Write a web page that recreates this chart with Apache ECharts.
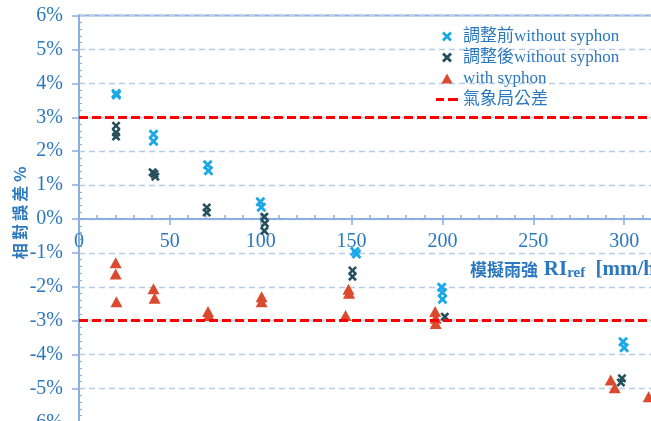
<!DOCTYPE html>
<html><head><meta charset="utf-8">
<script src="https://cdn.jsdelivr.net/npm/echarts@6/dist/echarts.min.js"></script>
<style>html,body{margin:0;padding:0;background:#fff}#c{width:651px;height:421px}</style>
</head><body><div id="c"></div>
<script>
// 調整前 without syphon
const beforeX = [20.4, 20.6, 41, 41, 70.8, 71.2, 99.8, 100.3, 151.8, 152.7, 199.6, 200, 200, 299.4, 300];
const beforeY = [3.70, 3.66, 2.50, 2.29, 1.60, 1.42, 0.51, 0.35, -0.96, -1.03, -2.01, -2.17, -2.37, -3.62, -3.80];
// 調整後 without syphon
const afterX = [20.4, 20.4, 20.4, 40.5, 41.5, 42, 70.3, 70.3, 102, 102.3, 102, 150.5, 150.5, 201.3, 298.8, 298.2];
const afterY = [2.75, 2.55, 2.43, 1.38, 1.33, 1.25, 0.34, 0.19, 0.07, -0.13, -0.35, -1.52, -1.70, -2.88, -4.70, -4.82];
// with syphon
const syphonX = [20.2, 20.2, 20.6, 41, 41.6, 71, 71.4, 100.5, 100.5, 148.3, 148.6, 146.7, 196, 196.3, 196.3, 292.6, 294.8, 313.5];
const syphonY = [-1.29, -1.62, -2.44, -2.06, -2.34, -2.73, -2.85, -2.29, -2.44, -2.07, -2.19, -2.85, -2.73, -2.93, -3.08, -4.75, -4.98, -5.24];
// 氣象局公差
const toleranceLevels = [3, -3];

const seriesNames = ['調整前without syphon', '調整後without syphon', 'with syphon', '氣象局公差'];

const zip = (xs, ys) => xs.map((x, i) => [x, ys[i]]);
const CROSS = 'path://M2,0L5,3L8,0L10,2L7,5L10,8L8,10L5,7L2,10L0,8L3,5L0,2Z';
const TRI = 'path://M5,0L10,9L0,9Z';
const DASH = 'path://M0,0H8V3H0Z M12,0H22V3H12Z';
const blue = '#2C78BF';
const axisBlue = '#8CAEE0';
const gridBlue = '#B7CCEB';
const serif = '"Liberation Serif", "Noto Sans CJK TC", serif';

const W = 651, H = 421;
const gridTop = 15.6, gridBottom = -1.4;
// the x axis sits on y = 0, which is the middle of the symmetric -6..6 range
const xOffset = -((H - gridTop - gridBottom) / 2);

const chart = echarts.init(document.getElementById('c'));
chart.setOption({
  animation: false,
  backgroundColor: '#fff',
  grid: {
    left: 79, top: gridTop, right: -64, bottom: gridBottom,
    containLabel: false, outerBoundsMode: 'none',
    show: true, borderColor: axisBlue, borderWidth: 2, backgroundColor: 'transparent'
  },
  legend: {
    orient: 'vertical', left: 436, top: 28, padding: 0,
    itemWidth: 22, itemHeight: 10, itemGap: 4,
    data: [
      { name: seriesNames[0], icon: CROSS },
      { name: seriesNames[1], icon: CROSS },
      { name: seriesNames[2], icon: TRI },
      { name: seriesNames[3], icon: DASH }
    ],
    textStyle: { color: blue, fontSize: 17, fontFamily: serif, lineHeight: 17 }
  },
  xAxis: [{
    type: 'value', min: 0, max: 350, interval: 50, position: 'bottom', offset: xOffset,
    axisLine: { onZero: false, lineStyle: { color: axisBlue, width: 2 } },
    axisTick: { show: true, length: 6, lineStyle: { color: axisBlue, width: 1.5 } },
    minorTick: { show: true, splitNumber: 5, length: -4, lineStyle: { color: axisBlue, width: 1.5 } },
    splitLine: { show: false },
    axisLabel: { color: blue, fontSize: 20, fontFamily: serif, margin: 13, showMaxLabel: true, hideOverlap: false },
    name: '{a|模擬雨強 }{b|RI}{c|ref}{b| [mm/h]}',
    nameLocation: 'middle', nameGap: 39, nameMoveOverlap: false,
    nameTextStyle: {
      align: 'left', padding: [0, 0, 0, 73],
      rich: {
        a: { fontFamily: '"Noto Sans CJK TC"', fontWeight: 'bold', fontSize: 17, color: blue, padding: [0, 2, 0, 0] },
        b: { fontFamily: '"Liberation Serif"', fontWeight: 'bold', fontSize: 21, color: blue },
        c: { fontFamily: '"Liberation Serif"', fontWeight: 'bold', fontSize: 15, color: blue, verticalAlign: 'bottom', padding: [8, 5, 0, 0] }
      }
    }
  }, {
    type: 'value', min: 0, max: 350, interval: 50, position: 'bottom', offset: xOffset,
    axisLine: { show: false, onZero: false },
    axisTick: { show: true, inside: true, length: 4, lineStyle: { color: axisBlue, width: 1.5 } },
    axisLabel: { show: false }, splitLine: { show: false }
  }],
  yAxis: {
    type: 'value', min: -6, max: 6, interval: 1,
    axisLine: { show: true, onZero: false, lineStyle: { color: axisBlue, width: 2 } },
    axisTick: { show: true, length: 7, lineStyle: { color: axisBlue, width: 1.5 } },
    minorTick: { show: true, splitNumber: 5, length: -3, lineStyle: { color: axisBlue, width: 1.2 } },
    splitLine: { show: true, lineStyle: { color: gridBlue, type: [6, 4], width: 1.3 } },
    axisLabel: { color: blue, fontSize: 20, fontFamily: serif, margin: 16, formatter: '{value}%' },
    name: '相\u2009對\u2009誤\u2009差 %', nameLocation: 'middle', nameRotate: 90, nameGap: 51, nameMoveOverlap: false,
    nameTextStyle: { color: blue, fontFamily: '"Noto Sans CJK TC"', fontWeight: 'bold', fontSize: 16, padding: [0, 0, 0, 12] }
  },
  series: [
    {
      name: seriesNames[3], type: 'line', data: [], symbol: 'none', z: 1,
      lineStyle: { color: '#FF0000', width: 3, type: [9, 4] },
      itemStyle: { color: '#FF0000' },
      markLine: {
        silent: true, symbol: 'none', label: { show: false },
        lineStyle: { color: '#FF0000', width: 3, type: [9, 4] },
        data: toleranceLevels.map(v => ({ yAxis: v }))
      }
    },
    {
      name: seriesNames[2], type: 'scatter', z: 3, symbol: 'triangle', symbolSize: [12, 11],
      itemStyle: { color: '#DA4A2E', opacity: 1 },
      data: zip(syphonX, syphonY)
    },
    {
      name: seriesNames[1], type: 'scatter', z: 4, symbol: CROSS, symbolSize: 9,
      itemStyle: { color: '#24505C', opacity: 1 },
      data: zip(afterX, afterY)
    },
    {
      name: seriesNames[0], type: 'scatter', z: 5, symbol: CROSS, symbolSize: 10,
      itemStyle: { color: '#1AA8E8', opacity: 1 },
      data: zip(beforeX, beforeY)
    }
  ]
});
</script></body></html>
